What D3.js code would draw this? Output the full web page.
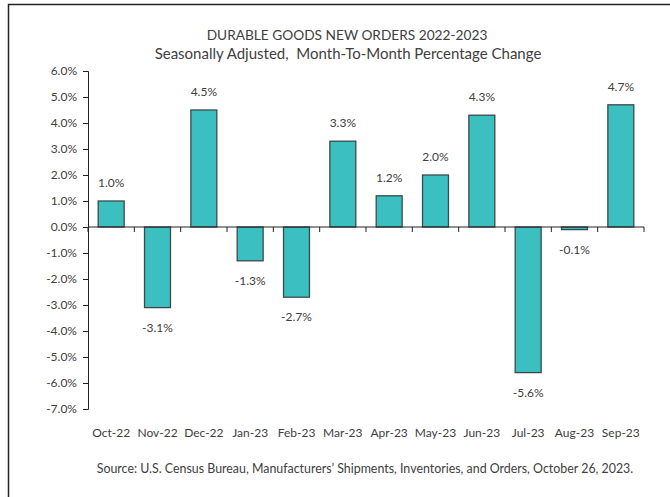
<!DOCTYPE html>
<html>
<head>
<meta charset="utf-8">
<script src="https://cdn.jsdelivr.net/npm/d3@7"></script>
<style>
  body { margin: 0; background: #fff; }
  text { font-family: Lato, "Open Sans", sans-serif; fill: #404040; }
</style>
</head>
<body>
<svg></svg>
<script>
var months = ["Oct-22", "Nov-22", "Dec-22", "Jan-23", "Feb-23", "Mar-23",
              "Apr-23", "May-23", "Jun-23", "Jul-23", "Aug-23", "Sep-23"];
var changes = [1.0, -3.1, 4.5, -1.3, -2.7, 3.3, 1.2, 2.0, 4.3, -5.6, -0.1, 4.7];
var yTicks = [6, 5, 4, 3, 2, 1, 0, -1, -2, -3, -4, -5, -6, -7];

var width = 670, height = 497;
var svg = d3.select("svg")
  .attr("width", width)
  .attr("height", height);

// outer frame (runs off the right and bottom edge)
svg.append("rect")
  .attr("x", 8.5).attr("y", 4.5)
  .attr("width", 700).attr("height", 600)
  .attr("fill", "none")
  .attr("stroke", "#222")
  .attr("stroke-width", 1.5);

var x = d3.scaleBand()
  .domain(months)
  .range([88, 644])
  .paddingInner(0.44)
  .paddingOuter(0.22);

var y = d3.scaleLinear()
  .domain([-7, 6])
  .range([409, 71]);

var fmt = function(d) { return d.toFixed(1) + "%"; };

// y axis
var yAxis = svg.append("g")
  .attr("transform", "translate(88,0)")
  .call(d3.axisLeft(y).tickValues(yTicks).tickFormat(fmt).tickSize(5).tickPadding(6));
yAxis.select(".domain").attr("stroke", "#222");
yAxis.selectAll(".tick line").attr("stroke", "#222");
yAxis.selectAll("text").style("font-size", "12px").attr("fill", "#404040");

// bars
svg.selectAll(".bar")
  .data(changes)
  .enter()
  .append("rect")
  .attr("class", "bar")
  .attr("x", function(d, i) { return x(months[i]); })
  .attr("width", x.bandwidth())
  .attr("y", function(d) { return y(Math.max(0, d)); })
  .attr("height", function(d) { return Math.abs(y(d) - y(0)); })
  .attr("fill", "#3cbfc1")
  .attr("stroke", "#3a4a4a")
  .attr("stroke-width", 1.3);

// zero line with category ticks
var xAxis = svg.append("g")
  .attr("transform", "translate(0," + y(0) + ")");
xAxis.append("line")
  .attr("x1", 88).attr("x2", 644)
  .attr("stroke", "#222");
var step = x.step();
d3.range(months.length + 1).forEach(function(i) {
  xAxis.append("line")
    .attr("x1", 88 + i * step).attr("x2", 88 + i * step)
    .attr("y1", 0).attr("y2", 5)
    .attr("stroke", "#222");
});

// category labels along the bottom
svg.selectAll(".mlabel")
  .data(months)
  .enter()
  .append("text")
  .attr("class", "mlabel")
  .attr("x", function(d) { return x(d) + x.bandwidth() / 2; })
  .attr("y", 437)
  .attr("text-anchor", "middle")
  .style("font-size", "12px")
  .text(function(d) { return d; });

// value labels
svg.selectAll(".vlabel")
  .data(changes)
  .enter()
  .append("text")
  .attr("class", "vlabel")
  .attr("x", function(d, i) { return x(months[i]) + x.bandwidth() / 2; })
  .attr("y", function(d) { return d >= 0 ? y(d) - 14 : y(d) + 24; })
  .attr("text-anchor", "middle")
  .style("font-size", "12px")
  .text(fmt);

// titles
svg.append("text")
  .attr("x", 347).attr("y", 40)
  .attr("text-anchor", "middle")
  .style("font-size", "13.7px")
  .text("DURABLE GOODS NEW ORDERS 2022-2023");
svg.append("text")
  .attr("x", 348).attr("y", 59)
  .attr("text-anchor", "middle")
  .style("font-size", "15px")
  .style("white-space", "pre")
  .text("Seasonally Adjusted,  Month-To-Month Percentage Change");

svg.append("text")
  .attr("x", 365).attr("y", 473)
  .attr("text-anchor", "middle")
  .style("font-size", "12.4px")
  .text("Source: U.S. Census Bureau, Manufacturers\u2019 Shipments, Inventories, and Orders, October 26, 2023.");
</script>
</body>
</html>
